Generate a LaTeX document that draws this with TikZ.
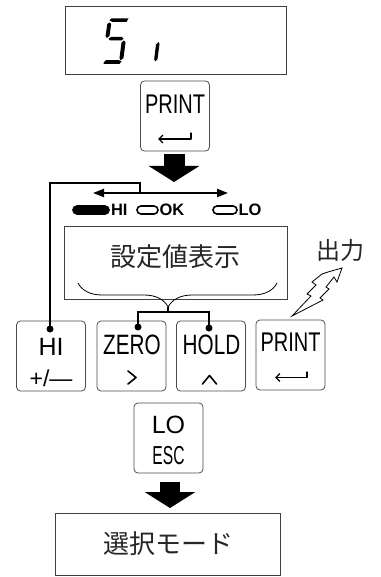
\documentclass[tikz,border=0pt]{standalone}
\usepackage{fontspec}
\setmainfont{Liberation Sans}
\newfontfamily\jpfont{Noto Sans CJK JP}
\newfontfamily\keynarrow[FakeStretch=0.74]{Liberation Sans}
\newfontfamily\escfont[FakeStretch=0.6]{Liberation Sans}
\usepackage{tikz}
\usetikzlibrary{positioning,shapes.misc,arrows.meta,decorations.pathreplacing}
\tikzset{
  keybox/.style={draw=black!70, line width=0.8pt, rounded corners=4pt, minimum width=69pt, minimum height=70pt, inner sep=0pt},
  panel/.style={draw=black!75, line width=0.8pt, inner sep=0pt},
  link/.style={line width=2pt},
  bigarrow/.style={-{Triangle[length=16pt,width=50pt]}, line width=21pt},
  lamp/.style={draw, rounded rectangle, line width=1.6pt, minimum height=8pt, inner sep=0pt},
  lamptext/.style={font=\bfseries\fontsize{16.5}{16.5}\selectfont, inner sep=0pt},
  keywide/.style={font=\fontsize{25}{25}\selectfont, inner sep=0pt},
  keytall/.style={font=\keynarrow\fontsize{27}{27}\selectfont, inner sep=0pt},
  jptext/.style={font=\jpfont\fontsize{26}{26}\selectfont, text=black!85, inner sep=0pt},
  seg/.style={fill=black},
  dot/.style={circle, fill=black, inner sep=0pt, minimum size=7pt},
  keysym/.style={line width=1.6pt, line cap=round, line join=round},
  enter/.style={keysym, line width=1.3pt, -{Straight Barb[length=4pt,width=8pt]}}
}
\begin{document}
\begin{tikzpicture}[x=1pt, y=-1pt]
  \useasboundingbox (0,0) rectangle (380,577);

  % weighing display
  \node[panel, minimum width=221pt, minimum height=68pt] (disp) at (175.5,40) {};
  \fill[seg] (109.5,20.5) -- (111.5,18.3) -- (128.5,18.3) -- (126.5,22) -- (112.5,22) -- cycle;
  \fill[seg] (109.5,22.5) -- (111.2,24) -- (109.5,36) -- (107,38) -- (105.5,36.5) -- (107.3,24) -- cycle;
  \fill[seg] (108.5,38.7) -- (111,37) -- (122,37) -- (123.5,38.7) -- (121.5,40.5) -- (110,40.5) -- cycle;
  \fill[seg] (124,40.5) -- (125.5,42.5) -- (123.5,58) -- (120.5,60.5) -- (119.5,58) -- (121.5,42.5) -- cycle;
  \fill[seg] (104,62) -- (106,60.2) -- (119,60.2) -- (121.5,61.5) -- (119.5,63.8) -- (103.5,63.8) -- cycle;
  \fill[seg] (158.5,42) -- (159.5,44) -- (157.5,59) -- (155,61.5) -- (154.2,59) -- (156,44.5) -- cycle;

  \node[keybox] (prkey) at (175,116) {};
  \node[keytall] (prtext) at (175,104) {PRINT};
  \draw[enter] (191,133) -- (191,139) -- (158,139);

  \coordinate (dispin) at (174,182);
  \draw[bigarrow, shorten <=3pt] (prkey.south -| dispin) -- (dispin);

  % comparator lamps
  \node[lamp, fill=black, minimum width=36pt] (hilamp) at (91,210) {};
  \node[lamptext, right=1pt of hilamp] (hilabel) {HI};
  \node[lamp, minimum width=21pt] (oklamp) at (147.5,210) {};
  \node[lamptext, right=0.5pt of oklamp] (oklabel) {OK};
  \node[lamp, minimum width=24pt] (lolamp) at (225,210) {};
  \node[lamptext, right=0.5pt of lolamp] (lolabel) {LO};

  \node[panel, minimum width=223pt, minimum height=73pt] (setbox) at (175.5,262.5) {};
  \node[jptext] (settext) at (175,257) {設定値表示};
  \coordinate (braceL) at (78,283);
  \coordinate (braceR) at (277,283);
  \draw[decorate, decoration={brace, mirror, amplitude=24pt, aspect=0.453}, line width=0.8pt] (braceL) -- (braceR);

  % keys
  \node[keybox] (hikey) at (51,356) {};
  \node[keybox] (zerokey) at (131.5,356) {};
  \node[keybox] (holdkey) at (211,356) {};
  \node[keybox] (prkeyb) at (290.5,355) {};

  \node[keywide] (hitext) at (51,347) {HI};
  \node[keywide, font=\fontsize{23}{23}\selectfont] (pmtext) at (51,378) {+/—};
  \node[keytall, font=\keynarrow\fontsize{28}{28}\selectfont] (zerotext) at (132,344.5) {ZERO};
  \draw[keysym] (128,371) -- (136,377.5) -- (128,384);
  \node[keytall, font=\keynarrow\fontsize{28}{28}\selectfont] (holdtext) at (211.5,344.5) {HOLD};
  \draw[keysym] (202.5,384) -- (209.5,375.5) -- (216.5,384);
  \node[keytall] (prtextb) at (290.5,342.5) {PRINT};
  \draw[enter] (307,372) -- (307,377.5) -- (275,377.5);

  \node[dot] (hidot) at (50,329) {};
  \node[dot] (zerodot) at (138,327) {};
  \node[dot] (holddot) at (209,328) {};

  % key connections
  \coordinate (hiturn) at (50,183);
  \coordinate (splitturn) at (140,183);
  \coordinate (splitjoin) at (140,193);
  \coordinate (leftend) at (93,193);
  \coordinate (rightend) at (228,193);
  \draw[link, {Triangle[length=11pt,width=8pt]}-{Triangle[length=11pt,width=8pt]}] (leftend) -- (rightend);
  \draw[link] (hidot.center) -- (hiturn) -- (splitturn) -- (splitjoin);
  \coordinate (bracetip) at (168,307);
  \coordinate (bracebar) at (168,312);
  \draw[link] (bracetip) -- (bracebar);
  \draw[link] (zerodot.center) -- (zerodot.center |- bracebar) -- (holddot.center |- bracebar) -- (holddot.center);

  % output
  \draw[line width=0.8pt, line join=miter, fill=white] (292,316) -- (311,296) -- (307,294) -- (316,285) -- (312,282) -- (322,274) -- (328,272) -- (342,268) -- (337,282) -- (334,277) -- (326,287) -- (329,289) -- (320,298) -- (323,300) -- cycle;
  \node[jptext, font=\jpfont\fontsize{24}{24}\selectfont] (outtext) at (340,250) {出力};

  \node[keybox] (lokey) at (168.5,438) {};
  \node[keywide] (lotext) at (168.5,424.5) {LO};
  \node[keywide, font=\escfont\fontsize{26}{26}\selectfont] (esctext) at (168.5,456) {ESC};

  \coordinate (modein) at (170,508);
  \draw[bigarrow, line width=20pt, shorten <=9pt] (lokey.south -| modein) -- (modein);

  \node[panel, minimum width=225pt, minimum height=62pt] (modebox) at (167.5,544) {};
  \node[jptext] (modetext) at (168,544) {選択モード};
\end{tikzpicture}
\end{document}
